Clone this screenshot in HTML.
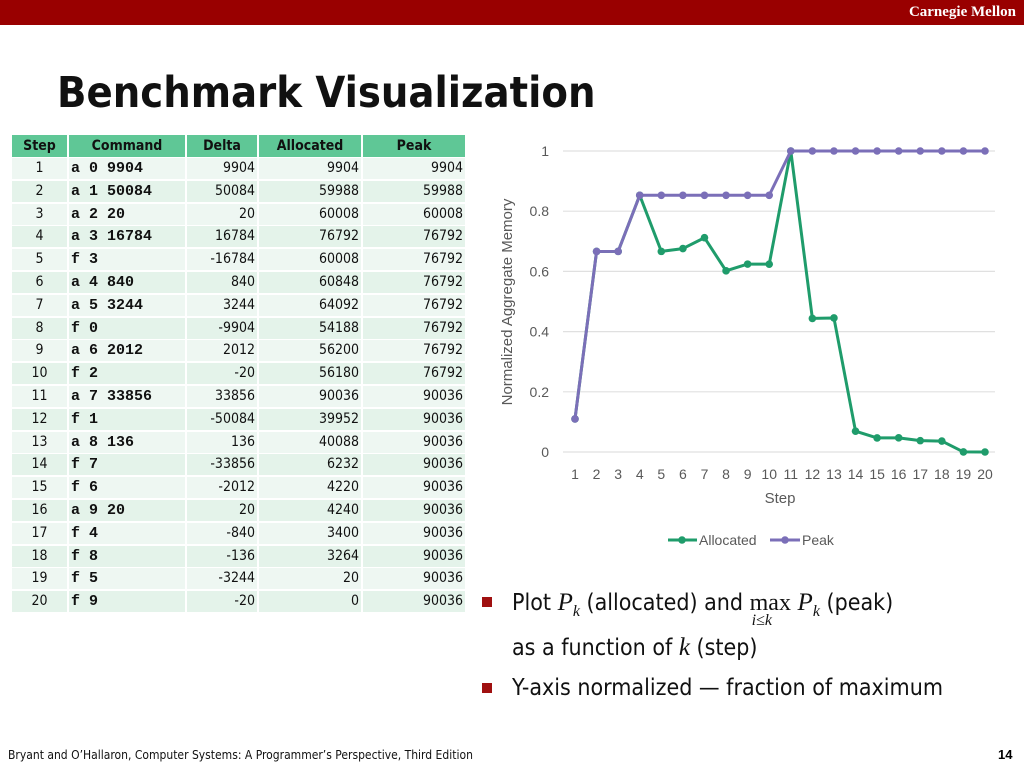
<!DOCTYPE html>
<html><head><meta charset="utf-8"><style>
body{margin:0;width:1024px;height:768px;position:relative;background:#fff;overflow:hidden;font-family:"Liberation Sans",sans-serif}
.abs{position:absolute}
.cell{position:absolute;height:21px;line-height:21px;font-size:14px;color:#111;box-sizing:border-box;font-family:"DejaVu Sans Condensed","Liberation Sans",sans-serif}
.mono{font-family:"Liberation Mono",monospace;font-weight:bold;font-size:15px}
.bul{position:absolute;width:10px;height:10px;background:#a01010}
.txt{position:absolute;font-size:23px;color:#111;font-family:"DejaVu Sans Condensed","Liberation Sans",sans-serif;white-space:nowrap}
i.m{font-family:"Liberation Serif",serif;font-size:25px}
</style></head><body>
<div class="abs" style="left:0;top:0;width:1024px;height:25px;background:#990000"></div>
<div class="abs" style="right:8px;top:4px;color:#fff;font:bold 15px 'Liberation Serif',serif">Carnegie Mellon</div>
<div class="abs" style="left:57px;top:68px;font:bold 43px 'DejaVu Sans Condensed','Liberation Sans',sans-serif;color:#111">Benchmark Visualization</div>
<div id="tbl"></div>
<svg id="chart" class="abs" style="left:0;top:0" width="1024" height="768"></svg>
<div class="bul" style="left:482px;top:597px"></div>
<div class="txt" style="left:512px;top:589px">Plot <i class="m">P<sub style="font-size:16px">k</sub></i> (allocated) and <span style="position:relative;font-family:'Liberation Serif',serif;font-size:24px">max<span style="position:absolute;left:2px;top:22px;font-size:16px;font-style:italic">i≤k</span></span> <i class="m">P<sub style="font-size:16px">k</sub></i> (peak)</div>
<div class="txt" style="left:512px;top:634px">as a function of <i class="m">k</i> (step)</div>
<div class="bul" style="left:482px;top:683px"></div>
<div class="txt" style="left:512px;top:675px">Y-axis normalized — fraction of maximum</div>
<div class="abs" style="left:8px;top:748px;font-size:12px;color:#111;font-family:'DejaVu Sans Condensed','Liberation Sans',sans-serif">Bryant and O’Hallaron, Computer Systems: A Programmer’s Perspective, Third Edition</div>
<div class="abs" style="left:998px;top:747px;font:bold 13px 'Liberation Sans',sans-serif">14</div>
<script>
const steps=[1,2,3,4,5,6,7,8,9,10,11,12,13,14,15,16,17,18,19,20];
const commands=["a 0 9904","a 1 50084","a 2 20","a 3 16784","f 3","a 4 840","a 5 3244","f 0","a 6 2012","f 2","a 7 33856","f 1","a 8 136","f 7","f 6","a 9 20","f 4","f 8","f 5","f 9"];
const deltas=[9904,50084,20,16784,-16784,840,3244,-9904,2012,-20,33856,-50084,136,-33856,-2012,20,-840,-136,-3244,-20];
const allocated=[9904,59988,60008,76792,60008,60848,64092,54188,56200,56180,90036,39952,40088,6232,4220,4240,3400,3264,20,0];
const peak=[9904,59988,60008,76792,76792,76792,76792,76792,76792,76792,90036,90036,90036,90036,90036,90036,90036,90036,90036,90036];
const yTicks=[0,0.2,0.4,0.6,0.8,1];
const maxVal=90036;
// table
const tbl=document.getElementById('tbl');
const cols=[{x:12,w:55,k:'Step',al:'center'},{x:69,w:116,k:'Command',al:'center'},{x:187,w:70,k:'Delta',al:'center'},{x:259,w:102,k:'Allocated',al:'center'},{x:363,w:102,k:'Peak',al:'center'}];
cols.forEach(c=>{const d=document.createElement('div');d.className='cell';


d.style.cssText=`left:${c.x}px;top:135px;width:${c.w}px;height:22px;line-height:22px;background:#5fc796;font-weight:bold;text-align:center`;d.textContent=c.k;tbl.appendChild(d);});
for(let r=0;r<20;r++){const top=158+r*22.8;const bg=r%2?'#e4f3ea':'#eef7f2';
const vals=[steps[r],commands[r],deltas[r],allocated[r],peak[r]];
cols.forEach((c,i)=>{const d=document.createElement('div');d.className='cell'+(i==1?' mono':'');


d.style.cssText=`left:${c.x}px;top:${top}px;width:${c.w}px;background:${bg};text-align:${i==0?'center':i==1?'left':'right'};padding:0 2px`;
d.textContent=i==1?vals[i].replace(/ /g,'\u00a0'):vals[i];if(i==1)d.style.whiteSpace='pre';tbl.appendChild(d);});}
// chart
const svg=document.getElementById('chart');const NS='http://www.w3.org/2000/svg';
const X=s=>575+(s-1)*(410/19);const Y=v=>452-v*301;
function el(t,a,name){const e=document.createElementNS(NS,t);for(const k in a)e.setAttribute(k,a[k]);


svg.appendChild(e);return e;}
yTicks.forEach(t=>{el('line',{x1:563,x2:995,y1:Y(t),y2:Y(t),stroke:'#e0e0e0','stroke-width':1.2},'gridline');
const tx=el('text',{x:549,y:Y(t)+5,'text-anchor':'end','font-size':14,fill:'#595959','font-family':'Liberation Sans'},'y-tick-label');tx.textContent=String(t);});
steps.forEach(s=>{const tx=el('text',{x:X(s),y:479,'text-anchor':'middle','font-size':14,fill:'#595959','font-family':'Liberation Sans'},'x-tick-label');tx.textContent=s;});
const xt=el('text',{x:780,y:503,'text-anchor':'middle','font-size':15,fill:'#595959','font-family':'Liberation Sans'},'x-axis-title');xt.textContent='Step';
const yt=el('text',{x:0,y:0,transform:'translate(512,302) rotate(-90)','text-anchor':'middle','font-size':15,fill:'#595959','font-family':'Liberation Sans'},'y-axis-title');yt.textContent='Normalized Aggregate Memory';
function series(data,color,name){const pts=data.map((v,i)=>X(steps[i])+','+Y(v/maxVal)).join(' ');
el('polyline',{points:pts,fill:'none',stroke:color,'stroke-width':3,'stroke-linejoin':'round'},name+'-line');
data.forEach((v,i)=>el('circle',{cx:X(steps[i]),cy:Y(v/maxVal),r:3.8,fill:color},name+'-point'));}
series(allocated,'#1f9c6b','allocated');
series(peak,'#7b6fb8','peak');
el('line',{x1:668,x2:697,y1:540,y2:540,stroke:'#1f9c6b','stroke-width':3},'legend-allocated-line');
el('circle',{cx:682,cy:540,r:3.8,fill:'#1f9c6b'},'legend-allocated-dot');
let t1=el('text',{x:699,y:545,'font-size':14,fill:'#595959','font-family':'Liberation Sans'},'legend-allocated-label');t1.textContent='Allocated';
el('line',{x1:770,x2:800,y1:540,y2:540,stroke:'#7b6fb8','stroke-width':3},'legend-peak-line');
el('circle',{cx:785,cy:540,r:3.8,fill:'#7b6fb8'},'legend-peak-dot');
let t2=el('text',{x:802,y:545,'font-size':14,fill:'#595959','font-family':'Liberation Sans'},'legend-peak-label');t2.textContent='Peak';
</script>
</body></html>
